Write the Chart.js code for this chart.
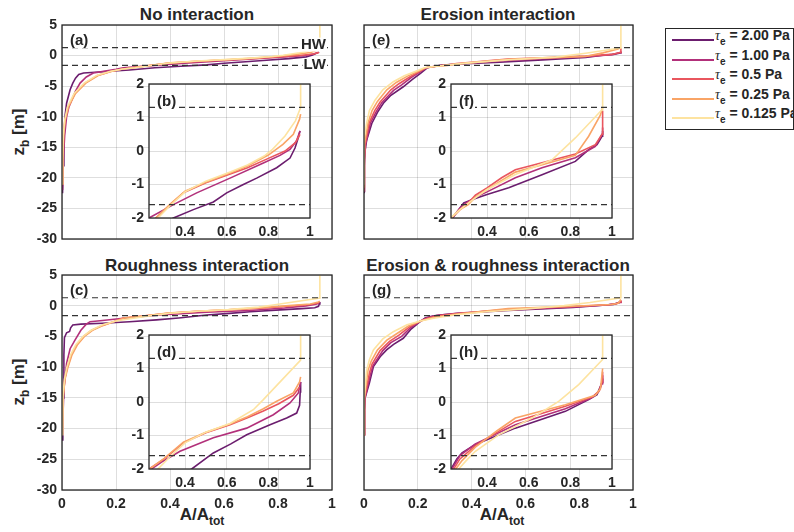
<!DOCTYPE html>
<html>
<head>
<meta charset="utf-8">
<script src="https://cdn.jsdelivr.net/npm/chart.js@4.4.1/dist/chart.umd.min.js"></script>
<style>
body { margin: 0; background: #fff; }
#page { position: relative; width: 794px; height: 532px; overflow: hidden; font-family: 'Liberation Sans', Arial, sans-serif; font-weight: bold; color: #262626; }
#page canvas { position: absolute; left: 0; top: 0; }
.txt { position: absolute; white-space: nowrap; transform: translate(-50%, -50%); font-size: 17px; }
.ylab { transform: translate(-50%, -50%) rotate(-90deg); }
.txt sub { font-size: 12px; vertical-align: -5px; line-height: 0; }
#legend { position: absolute; left: 665px; top: 28px; width: 127px; height: 100px; border: 1px solid #262626; background: #fff; }
.lrow { position: absolute; left: 0; font-size: 14px; white-space: nowrap; }
.lrow .ln { position: absolute; left: 6px; top: 0; width: 42px; height: 2px; }
.lrow .lt { position: absolute; left: 49px; top: -12px; }
.lrow .tau { font-style: italic; font-weight: normal; font-family: 'Liberation Serif', serif; font-size: 14px; }
.lrow sub { font-size: 10px; vertical-align: -5px; line-height: 0; }
</style>
</head>
<body>
<div id="page">
  <div class="txt" style="left:197px;top:15px">No interaction</div>
  <div class="txt" style="left:498px;top:15px">Erosion interaction</div>
  <div class="txt" style="left:197px;top:266px">Roughness interaction</div>
  <div class="txt" style="left:498px;top:266px">Erosion &amp; roughness interaction</div>
  <div class="txt ylab" style="left:19px;top:132px">z<sub>b</sub> [m]</div>
  <div class="txt ylab" style="left:19px;top:382px">z<sub>b</sub> [m]</div>
  <div class="txt" style="left:202px;top:515px">A/A<sub>tot</sub></div>
  <div class="txt" style="left:502px;top:515px">A/A<sub>tot</sub></div>
  <div id="legend"></div>
</div>
<script>
// ---------------- data : [A/Atot, zb] pairs ----------------
const tauLabels = ['2.00', '1.00', '0.5', '0.25', '0.125'];
const colors = ['#6b1d6e', '#b2307a', '#e9565e', '#f9a466', '#fde3a0'];
const HW = 1.3;
const LW = -1.6;

// (a)/(b) no interaction
const noInt200 = [[0.002,-22.5],[0.004,-18],[0.007,-14],[0.011,-10],[0.017,-7.8],[0.03,-5.6],[0.04,-4.5],[0.05,-3.7],[0.062,-3.1],[0.08,-2.85],[0.15,-2.65],[0.25,-2.35],[0.344,-2.0],[0.44,-1.75],[0.536,-1.52],[0.6,-1.25],[0.68,-1.0],[0.744,-0.81],[0.84,-0.5],[0.904,-0.21],[0.928,0.09],[0.944,0.4],[0.952,0.6]];
const noInt100 = [[0.002,-22],[0.005,-17],[0.01,-13],[0.017,-10],[0.025,-8.5],[0.036,-7.3],[0.05,-5.8],[0.067,-4.5],[0.09,-3.5],[0.116,-2.85],[0.16,-2.55],[0.2,-2.25],[0.227,-2.0],[0.344,-1.6],[0.456,-1.25],[0.616,-0.81],[0.776,-0.36],[0.856,-0.13],[0.904,0.05],[0.935,0.3],[0.952,0.6]];
const noInt050 = [[0.001,-21],[0.003,-17],[0.006,-13],[0.011,-10.5],[0.023,-8.4],[0.048,-6.2],[0.085,-4.5],[0.134,-3.2],[0.18,-2.6],[0.22,-2.25],[0.26,-2.0],[0.33,-1.6],[0.392,-1.25],[0.5,-0.95],[0.62,-0.68],[0.7,-0.5],[0.8,-0.22],[0.88,0.0],[0.93,0.25],[0.952,0.5]];
const noInt025 = [[0.001,-21],[0.003,-17],[0.006,-13],[0.012,-10.5],[0.024,-8.4],[0.05,-6.2],[0.088,-4.5],[0.137,-3.2],[0.182,-2.6],[0.222,-2.25],[0.26,-2.0],[0.33,-1.58],[0.4,-1.2],[0.5,-0.93],[0.62,-0.65],[0.7,-0.45],[0.8,-0.12],[0.87,0.2],[0.92,0.5],[0.95,0.95],[0.955,1.1]];
const noInt0125 = [[0.0,-21],[0.002,-17],[0.005,-13],[0.01,-10.5],[0.02,-8.4],[0.045,-6.2],[0.082,-4.5],[0.13,-3.2],[0.18,-2.55],[0.225,-2.2],[0.27,-2.0],[0.33,-1.62],[0.4,-1.22],[0.5,-0.9],[0.62,-0.62],[0.7,-0.42],[0.78,-0.15],[0.82,0.05],[0.88,0.45],[0.93,0.9],[0.955,1.3],[0.955,5]];

// (e)/(f) erosion interaction
const ero200 = [[0.0,-22.4],[0.001,-18],[0.004,-15.5],[0.01,-13.8],[0.029,-11.1],[0.05,-9.3],[0.072,-7.8],[0.1,-6.5],[0.146,-5.1],[0.18,-3.9],[0.21,-2.9],[0.235,-2.0],[0.27,-1.7],[0.288,-1.55],[0.344,-1.42],[0.4,-1.3],[0.504,-1.1],[0.664,-0.71],[0.824,-0.31],[0.888,0.04],[0.928,0.19],[0.952,0.44],[0.955,0.6]];
const ero100 = [[0.0,-22.2],[0.002,-17],[0.006,-14.5],[0.024,-11],[0.045,-9.2],[0.066,-7.7],[0.11,-5.7],[0.14,-4.8],[0.175,-3.6],[0.21,-2.6],[0.232,-2.0],[0.27,-1.7],[0.3,-1.55],[0.344,-1.38],[0.4,-1.22],[0.536,-0.8],[0.664,-0.5],[0.824,-0.2],[0.92,0.14],[0.952,0.5],[0.955,0.7]];
const ero050 = [[0.0,-22],[0.001,-17],[0.004,-14.5],[0.019,-11],[0.04,-9],[0.06,-7.6],[0.1,-5.6],[0.13,-4.6],[0.17,-3.5],[0.205,-2.6],[0.23,-2.0],[0.27,-1.75],[0.31,-1.55],[0.344,-1.32],[0.4,-1.1],[0.47,-0.8],[0.536,-0.56],[0.664,-0.35],[0.824,-0.09],[0.92,0.19],[0.952,0.5],[0.955,1.2]];
const ero025 = [[0.0,-21.5],[0.001,-17],[0.002,-14.5],[0.015,-11],[0.03,-9],[0.05,-7.5],[0.085,-5.6],[0.12,-4.4],[0.16,-3.4],[0.2,-2.6],[0.228,-2.0],[0.27,-1.75],[0.31,-1.6],[0.344,-1.38],[0.4,-1.15],[0.536,-0.63],[0.712,-0.33],[0.824,-0.13],[0.888,0.44],[0.944,1.07],[0.955,1.3]];
const ero0125 = [[0.0,-21],[0.0,-17],[0.001,-13.5],[0.01,-11],[0.02,-9],[0.041,-7.3],[0.07,-5.6],[0.109,-4.27],[0.15,-3.3],[0.19,-2.6],[0.225,-2.0],[0.26,-1.8],[0.3,-1.6],[0.344,-1.4],[0.4,-1.15],[0.536,-0.7],[0.712,-0.26],[0.824,0.39],[0.952,1.23],[0.955,5]];

// (c)/(d) roughness interaction
const rough200 = [[0.003,-22],[0.005,-15],[0.007,-8],[0.009,-5.2],[0.017,-4.4],[0.028,-4.2],[0.032,-3.6],[0.04,-3.15],[0.07,-3.0],[0.15,-2.85],[0.25,-2.6],[0.35,-2.3],[0.432,-2.0],[0.536,-1.52],[0.62,-1.25],[0.696,-0.98],[0.808,-0.68],[0.888,-0.48],[0.936,-0.33],[0.95,-0.1],[0.953,0.3],[0.955,0.6]];
const rough100 = [[0.002,-21],[0.006,-14],[0.017,-9.4],[0.03,-7],[0.048,-5.6],[0.07,-4.0],[0.09,-3.0],[0.104,-2.6],[0.15,-2.4],[0.227,-2.05],[0.296,-1.76],[0.376,-1.47],[0.536,-1.07],[0.696,-0.78],[0.824,-0.38],[0.904,-0.03],[0.944,0.27],[0.955,0.6]];
const rough050 = [[0.001,-21],[0.004,-15],[0.01,-12],[0.02,-10],[0.035,-8],[0.055,-6.3],[0.08,-5],[0.11,-4],[0.15,-3.2],[0.19,-2.6],[0.227,-2.0],[0.3,-1.7],[0.392,-1.22],[0.5,-0.92],[0.616,-0.68],[0.7,-0.47],[0.776,-0.27],[0.85,-0.05],[0.92,0.2],[0.95,0.45]];
const rough025 = [[0.001,-21],[0.004,-15],[0.011,-12],[0.022,-10],[0.037,-8],[0.058,-6.3],[0.083,-5],[0.113,-4],[0.153,-3.2],[0.192,-2.6],[0.23,-2.0],[0.3,-1.68],[0.392,-1.2],[0.5,-0.9],[0.616,-0.66],[0.7,-0.44],[0.776,-0.2],[0.84,0.02],[0.92,0.27],[0.95,0.6],[0.955,0.75]];
const rough0125 = [[0.0,-21],[0.003,-15],[0.009,-12],[0.018,-10],[0.032,-8],[0.052,-6.3],[0.078,-5],[0.108,-4],[0.15,-3.1],[0.2,-2.5],[0.27,-2.0],[0.33,-1.62],[0.4,-1.22],[0.5,-0.9],[0.616,-0.64],[0.728,-0.23],[0.776,0.07],[0.955,1.25],[0.955,5]];

// (g)/(h) erosion & roughness interaction
const both200 = [[0.0,-21],[0.002,-17],[0.004,-15],[0.02,-12.6],[0.035,-9.9],[0.06,-8.3],[0.084,-7.2],[0.11,-6.3],[0.146,-5.3],[0.175,-3.8],[0.205,-2.7],[0.227,-2.0],[0.255,-1.7],[0.28,-1.52],[0.344,-1.27],[0.536,-0.78],[0.776,-0.28],[0.888,0.07],[0.928,0.22],[0.952,0.58],[0.955,0.7]];
const both100 = [[0.0,-21],[0.002,-17],[0.004,-15],[0.022,-11.5],[0.033,-9.8],[0.07,-7.3],[0.1,-6.0],[0.14,-5.0],[0.175,-3.5],[0.21,-2.5],[0.232,-2.0],[0.27,-1.6],[0.344,-1.25],[0.536,-0.68],[0.776,-0.2],[0.9,0.12],[0.935,0.3],[0.952,0.55],[0.955,0.8]];
const both050 = [[0.0,-21],[0.001,-17],[0.003,-15],[0.02,-11],[0.03,-9.5],[0.06,-7.3],[0.095,-5.8],[0.13,-4.8],[0.17,-3.4],[0.21,-2.5],[0.24,-2.0],[0.27,-1.7],[0.344,-1.3],[0.45,-0.9],[0.536,-0.58],[0.776,-0.13],[0.91,0.16],[0.94,0.35],[0.952,0.6],[0.955,0.9]];
const both025 = [[0.0,-21],[0.001,-17],[0.002,-15],[0.015,-10.5],[0.027,-9],[0.05,-7.2],[0.085,-5.6],[0.12,-4.6],[0.165,-3.3],[0.21,-2.5],[0.25,-2.0],[0.28,-1.75],[0.344,-1.35],[0.45,-0.85],[0.536,-0.48],[0.776,-0.08],[0.92,0.2],[0.945,0.4],[0.955,1.0]];
const both0125 = [[0.0,-21],[0.0,-17],[0.001,-15],[0.01,-10.5],[0.02,-8.8],[0.035,-7.2],[0.07,-5.4],[0.109,-4.23],[0.16,-3.1],[0.21,-2.5],[0.264,-2.0],[0.3,-1.75],[0.344,-1.47],[0.456,-0.98],[0.616,-0.48],[0.744,0.02],[0.84,0.52],[0.955,1.27],[0.955,5]];

// ---------------- drawing ----------------
Chart.defaults.font.family = "'Liberation Sans', Arial, sans-serif";
Chart.defaults.font.weight = 'bold';
Chart.defaults.font.size = 14;
Chart.defaults.color = '#262626';

const page = document.getElementById('page');
const YW = 40, XH = 24;
const gridColor = 'rgba(0,0,0,0.13)';

function fmt(v) { return String(Number(v.toFixed(2))); }

// frame + white background (insets) + text tags with white background
function framePlugin(fill, tags) {
    return {
        id: 'frame',
        beforeDraw(chart) {
            if (!fill) return;
            const a = chart.chartArea;
            chart.ctx.save();
            chart.ctx.fillStyle = '#fff';
            chart.ctx.fillRect(a.left, a.top, a.right - a.left, a.bottom - a.top);
            chart.ctx.restore();
        },
        afterDraw(chart) {
            const ctx = chart.ctx, a = chart.chartArea;
            ctx.save();
            ctx.font = "bold 15px 'Liberation Sans', Arial, sans-serif";
            ctx.textBaseline = 'middle';
            tags.forEach(t => {
                let x, y;
                if (t.right) { ctx.textAlign = 'right'; x = a.right - t.dx; }
                else { ctx.textAlign = 'left'; x = a.left + t.dx; }
                y = (t.z !== undefined) ? chart.scales.y.getPixelForValue(t.z) + t.dy : a.top + t.dy;
                const w = ctx.measureText(t.text).width;
                ctx.fillStyle = '#fff';
                ctx.fillRect(t.right ? x - w - 1 : x - 1, y - 7, w + 2, 14);
                ctx.fillStyle = '#262626';
                ctx.fillText(t.text, x, y);
            });
            ctx.strokeStyle = '#262626';
            ctx.lineWidth = 1.3;
            ctx.strokeRect(a.left, a.top, a.right - a.left, a.bottom - a.top);
            ctx.restore();
        }
    };
}

function makeChart(box, xr, yr, xstep, ystep, showX, showY, series, tags, inset) {
    const cv = document.createElement('canvas');
    cv.width = 794; cv.height = 532;
    page.appendChild(cv);

    const datasets = [];
    [HW, LW].forEach(z => datasets.push({
        data: [{x: xr[0], y: z}, {x: xr[1], y: z}],
        borderColor: '#333', borderWidth: 1.2, borderDash: [6, 4],
        pointRadius: 0, showLine: true, order: 0, clip: 0
    }));
    series.forEach((pts, i) => datasets.push({
        label: 'τe = ' + tauLabels[i] + ' Pa',
        data: pts.map(p => ({x: p[0], y: p[1]})),
        borderColor: colors[i], borderWidth: 1.6,
        pointRadius: 0, showLine: true, order: 5 - i, clip: 0
    }));

    new Chart(cv, {
        type: 'scatter',
        data: { datasets: datasets },
        plugins: [framePlugin(inset, tags)],
        options: {
            responsive: false,
            animation: false,
            devicePixelRatio: 1,
            events: [],
            layout: { padding: { left: box.l - YW, top: box.t, right: 794 - box.r, bottom: 532 - box.b - XH } },
            plugins: { legend: { display: false }, tooltip: { enabled: false } },
            scales: {
                x: {
                    type: 'linear', min: xr[0], max: xr[1],
                    afterFit: s => { s.height = XH; },
                    grid: { color: gridColor, drawTicks: false },
                    border: { display: false },
                    ticks: { display: showX, stepSize: xstep, includeBounds: false, padding: 6, maxRotation: 0, autoSkip: false, callback: v => fmt(v) }
                },
                y: {
                    type: 'linear', min: yr[0], max: yr[1],
                    afterFit: s => { s.width = YW; },
                    grid: { color: gridColor, drawTicks: false },
                    border: { display: false },
                    ticks: { display: showY, stepSize: ystep, includeBounds: false, padding: 5, autoSkip: false, callback: v => fmt(v) }
                }
            }
        }
    });
}

const mainX = [0, 1], mainY = [-30, 5];
const insX = [0.227, 1], insY = [-2, 2];

// no interaction
makeChart({l: 62, t: 25, r: 332, b: 239}, mainX, mainY, 0.2, 5, false, true,
    [noInt200, noInt100, noInt050, noInt025, noInt0125],
    [{text: '(a)', dx: 8, dy: 16}, {text: 'HW', right: true, dx: 6, z: HW, dy: -3}, {text: 'LW', right: true, dx: 6, z: LW, dy: 0}], false);
makeChart({l: 149, t: 84, r: 310, b: 218}, insX, insY, 0.2, 1, true, true,
    [noInt200, noInt100, noInt050, noInt025, noInt0125], [{text: '(b)', dx: 8, dy: 18}], true);

// erosion interaction
makeChart({l: 364, t: 25, r: 633, b: 239}, mainX, mainY, 0.2, 5, false, false,
    [ero200, ero100, ero050, ero025, ero0125], [{text: '(e)', dx: 8, dy: 16}], false);
makeChart({l: 451, t: 84, r: 612, b: 218}, insX, insY, 0.2, 1, true, true,
    [ero200, ero100, ero050, ero025, ero0125], [{text: '(f)', dx: 8, dy: 18}], true);

// roughness interaction
makeChart({l: 62, t: 275, r: 332, b: 490}, mainX, mainY, 0.2, 5, true, true,
    [rough200, rough100, rough050, rough025, rough0125], [{text: '(c)', dx: 8, dy: 16}], false);
makeChart({l: 149, t: 335, r: 310, b: 469}, insX, insY, 0.2, 1, true, true,
    [rough200, rough100, rough050, rough025, rough0125], [{text: '(d)', dx: 8, dy: 18}], true);

// erosion & roughness interaction
makeChart({l: 364, t: 275, r: 633, b: 490}, mainX, mainY, 0.2, 5, true, false,
    [both200, both100, both050, both025, both0125], [{text: '(g)', dx: 8, dy: 16}], false);
makeChart({l: 451, t: 335, r: 612, b: 469}, insX, insY, 0.2, 1, true, true,
    [both200, both100, both050, both025, both0125], [{text: '(h)', dx: 8, dy: 18}], true);

// legend
const legend = document.getElementById('legend');
tauLabels.forEach((lab, i) => {
    const row = document.createElement('div');
    row.className = 'lrow';
    row.style.top = Math.round(10 + i * 19.6) + 'px';
    row.innerHTML = '<div class="ln" style="background:' + colors[i] + '"></div>' +
        '<div class="lt"><span class="tau">τ</span><sub>e</sub> = ' + lab + ' Pa</div>';
    legend.appendChild(row);
});
</script>
</body>
</html>
